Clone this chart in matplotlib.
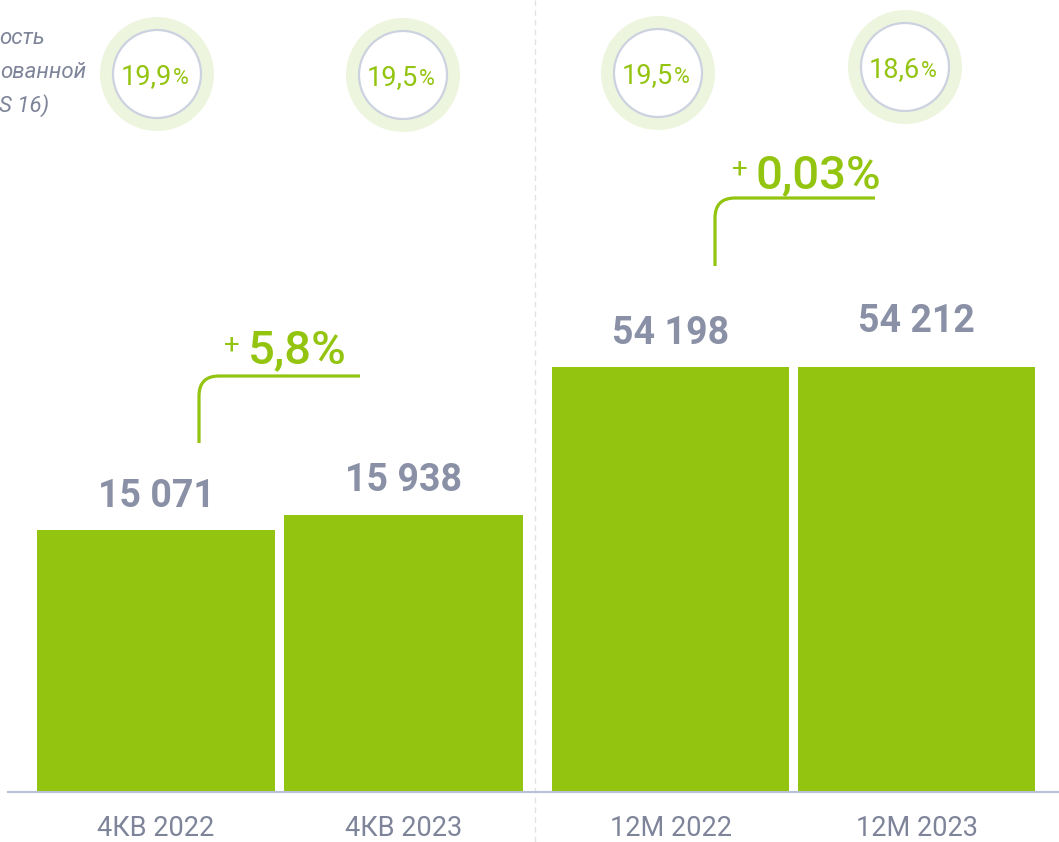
import matplotlib
matplotlib.use('Agg')
import matplotlib.pyplot as plt
from matplotlib.patches import Circle, PathPatch
from matplotlib.path import Path

# data
q_labels = ['4КВ 2022', '4КВ 2023']
q_values = [15071, 15938]
y_labels = ['12М 2022', '12М 2023']
y_values = [54198, 54212]
margins = ['19,9', '19,5', '19,5', '18,6']
growth = ['5,8%', '0,03%']
# caption is cropped on the left in the source picture
side_text = ['ость', 'ованной', 'S 16)']

GREEN = '#93c40f'
GREY = '#8a90a5'
W, H = 1059, 842

plt.rcParams['font.family'] = ['Roboto', 'DejaVu Sans']
fig = plt.figure(figsize=(W / 100, H / 100), dpi=100)

base = (H - 792) / H


def bar_group(x0, x1, vals, labels, ymax, xl, offs):
    ax = fig.add_axes([x0 / W, base, (x1 - x0) / W, 1 - base])
    ax.bar(range(len(vals)), vals, width=0.963, color=GREEN, zorder=2)
    ax.set_xlim(*xl)
    ax.set_ylim(0, ymax)
    ax.axis('off')
    for i, v in enumerate(vals):
        ax.annotate('{:,}'.format(v).replace(',', ' '), (i, v),
                    xytext=(0, offs[i]), textcoords='offset pixels',
                    ha='center', va='center', fontsize=27,
                    fontweight='bold', color=GREY)
        ax.annotate(labels[i], (i, 0), xytext=(0, -37),
                    textcoords='offset pixels', ha='center', va='center',
                    fontsize=19.5, color='#7e8499')
    return ax


ax1 = bar_group(0, 535, q_values, q_labels, 45558, (-0.630, 1.531), [33, 34])
ax2 = bar_group(535, 1059, y_values, y_labels, 101000, (-0.551, 1.579), [34, 45])

# overlay in pixel coords for decorations
ov = fig.add_axes([0, 0, 1, 1])
ov.set_xlim(0, W)
ov.set_ylim(H, 0)
ov.axis('off')
ov.patch.set_alpha(0)

ov.plot([8, W], [792, 792], color='#b7c2d6', lw=1.5, zorder=3)
ov.plot([535, 535], [0, H], color='#e2e2e2', lw=1, ls=(0, (4, 3)), zorder=1)

# margin circles
centers = [(157, 74), (403, 75), (658, 73), (905, 67)]
for (cx, cy), m in zip(centers, margins):
    ov.add_patch(Circle((cx, cy), 57, color='#eef5de', lw=0))
    ov.add_patch(Circle((cx, cy), 44, facecolor='white',
                        edgecolor='#ccd2df', lw=1.6))
    ov.text(cx + 15, cy + 10, m, ha='right', va='baseline',
            fontsize=19.5, color=GREEN)
    ov.text(cx + 16, cy + 10, '%', ha='left', va='baseline',
            fontsize=15.5, color=GREEN)

# side caption
for txt, xe, ye in zip(side_text, [45, 86, 49], [38, 72, 106]):
    ov.text(xe, ye, txt, ha='right', va='center', fontsize=16,
            style='italic', color='#7e8499')


# growth connectors
def connector(x, yb, yh, xe, r=20):
    verts = [(x, yb), (x, yh + r), (x, yh), (x + r, yh), (xe, yh)]
    codes = [Path.MOVETO, Path.LINETO, Path.CURVE3, Path.CURVE3, Path.LINETO]
    ov.add_patch(PathPatch(Path(verts, codes), fill=False,
                           edgecolor=GREEN, lw=2.3, capstyle='butt'))


connector(199, 443, 376, 360)
connector(715, 266, 198, 875)

ov.text(232, 345, '+', ha='center', va='center', fontsize=20, color=GREEN)
ov.text(248, 363, growth[0], ha='left', va='baseline', fontsize=34,
        fontweight='medium', color=GREEN)
ov.text(740, 169, '+', ha='center', va='center', fontsize=20, color=GREEN)
ov.text(755, 188, growth[1], ha='left', va='baseline', fontsize=34,
        fontweight='medium', color=GREEN)

fig.savefig('out.png', dpi=100)
